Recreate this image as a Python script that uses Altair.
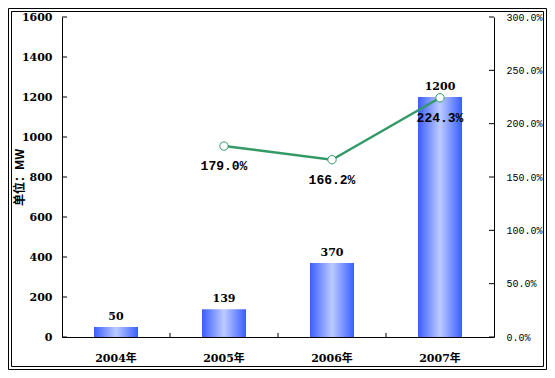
import altair as alt
import pandas as pd

# ---- data ----
years = ["2004年", "2005年", "2006年", "2007年"]
output_mw = [50, 139, 370, 1200]
growth_years = ["2005年", "2006年", "2007年"]
growth = [1.790, 1.662, 2.243]
left_tick_values = [0, 200, 400, 600, 800, 1000, 1200, 1400, 1600]
right_tick_values = [0.0, 0.5, 1.0, 1.5, 2.0, 2.5, 3.0]
boundary_years = ["2005年", "2006年", "2007年"]
y_title = "单位：MW"

bars_df = pd.DataFrame({"year": years, "mw": output_mw})
line_df = pd.DataFrame({"year": growth_years, "g": growth})
lt_df = pd.DataFrame({"mw": left_tick_values})
rt_df = pd.DataFrame({"g": right_tick_values})
bd_df = pd.DataFrame({"year": boundary_years})
one = pd.DataFrame({"k": [0]})

W, H = 432, 320
NUM_FONT = "DejaVu Serif, Noto Sans CJK SC"
MONO = "Liberation Mono"
GREEN = "#339966"

xscale = alt.Scale(domain=years, paddingInner=0, paddingOuter=0)
x_axis = alt.Axis(title=None, ticks=False, labelAngle=0, labelFont=NUM_FONT,
                  labelFontSize=11, labelFontWeight="bold", labelColor="black",
                  labelPadding=15, domainColor="black", domainWidth=1, grid=False)
x_enc = alt.X("year:N", scale=xscale, axis=x_axis)
x_enc_edge = alt.X("year:N", scale=xscale, axis=x_axis, bandPosition=0)

yl_scale = alt.Scale(domain=[0, 1600], nice=False, zero=True)
yr_scale = alt.Scale(domain=[0, 3.0], nice=False, zero=True)

yl_axis = alt.Axis(title=y_title, values=left_tick_values, format="d", ticks=False, grid=False,
                   labelFont=NUM_FONT, labelFontSize=11, labelFontWeight="bold",
                   labelColor="black", labelPadding=10,
                   domainColor="black", domainWidth=1,
                   titleFont="Noto Sans CJK SC", titleFontSize=12,
                   titleFontWeight="bold", titleColor="black",
                   titleAngle=-90, titleX=-43, titleY=160,
                   titleAlign="center", titleBaseline="middle")
yl_enc = alt.Y("mw:Q", scale=yl_scale, axis=yl_axis)

yr_axis = alt.Axis(orient="right", title=None, values=right_tick_values, format=".1%",
                   ticks=False, grid=False, labelFont=MONO, labelFontSize=10,
                   labelColor="black", labelPadding=12,
                   domainColor="black", domainWidth=1)
yr_enc = alt.Y("g:Q", scale=yr_scale, axis=yr_axis)

gradient = alt.Gradient(
    gradient="linear", x1=0, x2=1, y1=0, y2=0,
    stops=[alt.GradientStop(color="#3A5EFF", offset=0),
           alt.GradientStop(color="#BCCBFF", offset=0.5),
           alt.GradientStop(color="#3A5EFF", offset=1)])

bars = alt.Chart(bars_df).mark_bar(size=44, color=gradient).encode(x=x_enc, y=yl_enc)

bar_labels = alt.Chart(bars_df).mark_text(
    font=NUM_FONT, fontSize=11, fontWeight="bold", color="black",
    baseline="middle", dy=-10).encode(x=x_enc, y=yl_enc, text=alt.Text("mw:Q"))

left_ticks = alt.Chart(lt_df).mark_rule(color="black", strokeWidth=1).encode(
    y=yl_enc, x=alt.value(0), x2=alt.value(5))

x_ticks = alt.Chart(bd_df).mark_rule(color="black", strokeWidth=1).encode(
    x=x_enc_edge, y=alt.value(H), y2=alt.value(H - 4))

frame_outer = alt.Chart(one).mark_rect(filled=False, stroke="black", strokeWidth=1).encode(
    x=alt.value(-53.5), x2=alt.value(W + 52.5), y=alt.value(-8.5), y2=alt.value(H + 32.5))
frame_inner = alt.Chart(one).mark_rect(filled=False, stroke="black", strokeWidth=1).encode(
    x=alt.value(-50.5), x2=alt.value(W + 49.5), y=alt.value(-5.5), y2=alt.value(H + 29.5))

left = alt.layer(bars, bar_labels, left_ticks, x_ticks, frame_outer, frame_inner)

line = alt.Chart(line_df).mark_line(color=GREEN, strokeWidth=2.5).encode(x=x_enc, y=yr_enc)
points = alt.Chart(line_df).mark_point(shape="circle", size=70, filled=True, fill="white",
                                       stroke=GREEN, strokeWidth=1, opacity=1).encode(
    x=x_enc, y=yr_enc)
pct_labels = alt.Chart(line_df).mark_text(
    font=MONO, fontSize=13, fontWeight="bold", color="black",
    baseline="middle", dy=20).encode(
    x=x_enc, y=yr_enc, text=alt.Text("g:Q", format=".1%"))
right_ticks = alt.Chart(rt_df).mark_rule(color="black", strokeWidth=1).encode(
    y=yr_enc, x=alt.value(W), x2=alt.value(W - 5))

right = alt.layer(line, points, pct_labels, right_ticks)

chart = alt.layer(left, right).resolve_scale(y="independent").properties(
    width=W, height=H,
    padding={"left": 54, "right": 53, "top": 9, "bottom": 33},
    autosize=alt.AutoSizeParams(type="none"),
    background="white",
).configure_view(stroke=None)

chart.save("out.html", embed_options={"renderer": "svg", "actions": False})
